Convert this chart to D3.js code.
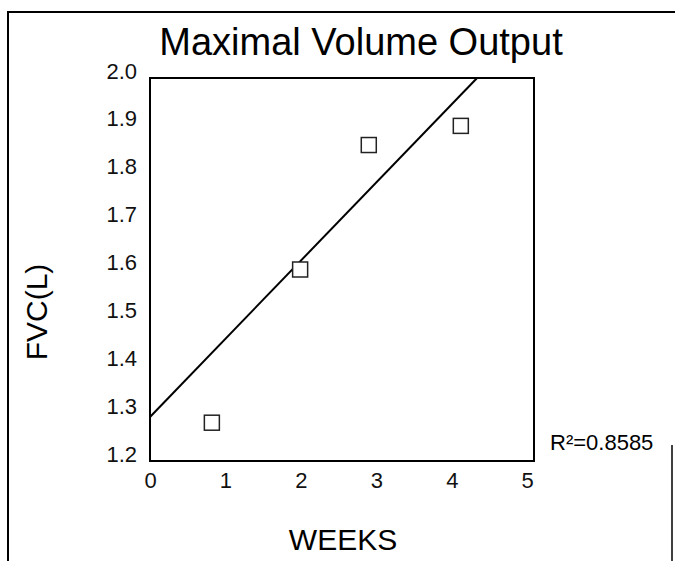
<!doctype html>
<html lang="en">
<head>
  <meta charset="utf-8">
  <title>Maximal Volume Output</title>
  <script src="https://d3js.org/d3.v7.min.js"></script>
  <style>
    body { margin: 0; background: #fff; }
    svg { display: block; font-family: "Liberation Sans", Arial, Helvetica, sans-serif; }
    .tick text { fill: #111; }
  </style>
</head>
<body>
  <svg id="chart" width="675" height="561"></svg>
  <script>

  // DATA
  const weeks = [0.82, 1.99, 2.90, 4.12];
  const fvc = [1.28, 1.60, 1.86, 1.90];
  const xTicks = [0, 1, 2, 3, 4, 5];
  const yTicks = [1.2, 1.3, 1.4, 1.5, 1.6, 1.7, 1.8, 1.9, 2.0];
  const fit = { intercept: 1.292, slope: 0.1633 };
  const rSquared = "R²=0.8585";

  let svg = d3.select("#chart");

  // plot box: 0..5.09 weeks so the "5" sits just inside the right edge
  let x = d3.scaleLinear().domain([0, 5.09]).range([150, 534]);
  let y = d3.scaleLinear().domain([1.2, 2.0]).range([461, 78]);

  // outer frame (scanned page border)
  svg.append("path")
    .attr("d", "M8,561 L8,12 L675,12")
    .attr("fill", "none").attr("stroke", "#000").attr("stroke-width", 2);
  svg.append("line")
    .attr("x1", 672).attr("x2", 672).attr("y1", 445).attr("y2", 561)
    .attr("stroke", "#000").attr("stroke-width", 1.5);

  // title
  svg.append("text")
    .attr("x", 361).attr("y", 55)
    .attr("text-anchor", "middle")
    .style("font-size", "38px")
    .text("Maximal Volume Output");

  // axes (labels only, the box is drawn below)
  let gx = svg.append("g")
    .attr("transform", "translate(0," + y.range()[0] + ")")
    .call(d3.axisBottom(x).tickValues(xTicks).tickSize(0).tickFormat(d3.format("d")));
  gx.select(".domain").remove();
  gx.selectAll("text").attr("y", 27).attr("dy", 0).style("font-size", "22px");

  let gy = svg.append("g")
    .attr("transform", "translate(" + x.range()[0] + ",0)")
    .call(d3.axisLeft(y).tickValues(yTicks).tickSize(0).tickFormat(d3.format(".1f")));
  gy.select(".domain").remove();
  gy.selectAll("text").attr("x", -13).attr("dy", 0).style("font-size", "22px");

  // plot box
  svg.append("rect")
    .attr("x", x.range()[0]).attr("y", y.range()[1])
    .attr("width", x.range()[1] - x.range()[0])
    .attr("height", y.range()[0] - y.range()[1])
    .attr("fill", "none").attr("stroke", "#000").attr("stroke-width", 2);

  // regression line, stopped where it leaves the top of the box
  let xEnd = (y.domain()[1] - fit.intercept) / fit.slope;
  svg.append("line")
    .attr("x1", x(0)).attr("y1", y(fit.intercept))
    .attr("x2", x(xEnd)).attr("y2", y(fit.intercept + fit.slope * xEnd))
    .attr("stroke", "#000").attr("stroke-width", 2);

  // points
  let pts = weeks.map(function(w, i) { return { w: w, v: fvc[i] }; });
  svg.selectAll("rect.pt")
    .data(pts)
    .enter().append("rect")
      .attr("class", "pt")
      .attr("x", function(d) { return x(d.w) - 7.5; })
      .attr("y", function(d) { return y(d.v) - 7.5; })
      .attr("width", 15).attr("height", 15)
      .attr("fill", "#fff").attr("stroke", "#222").attr("stroke-width", 1.5);

  // axis titles
  svg.append("text")
    .attr("x", 343).attr("y", 550)
    .attr("text-anchor", "middle")
    .style("font-size", "30px")
    .text("WEEKS");

  svg.append("text")
    .attr("transform", "translate(47,312) rotate(-90)")
    .attr("text-anchor", "middle")
    .style("font-size", "30px")
    .text("FVC(L)");

  svg.append("text")
    .attr("x", 550).attr("y", 450)
    .style("font-size", "22px")
    .text(rSquared);

  </script>
</body>
</html>
